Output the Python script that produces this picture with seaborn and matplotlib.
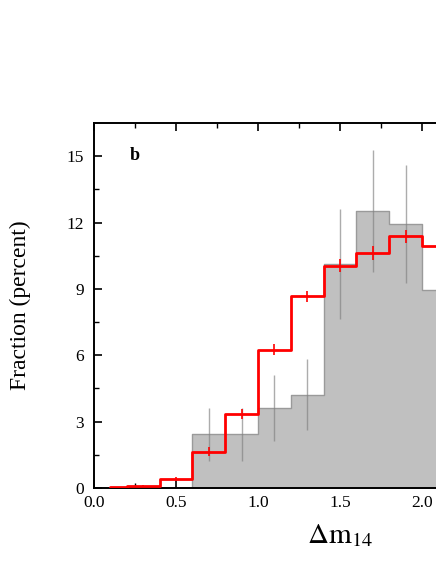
import numpy as np
import pandas as pd
import matplotlib
matplotlib.use("Agg")
import matplotlib.pyplot as plt
import seaborn as sns

# ---------------------------
# DATA
# ---------------------------
edges = [0.1, 0.2, 0.4, 0.6, 0.8, 1.0, 1.2, 1.4, 1.6, 1.8, 2.0, 2.2, 2.4]
observed = [0.0, 0.0, 0.0, 2.42, 2.42, 3.61, 4.21, 10.12, 12.53, 11.93, 8.96, 6.0]
observed_err = [0.0, 0.0, 0.0, 1.2, 1.2, 1.48, 1.6, 2.48, 2.75, 2.67, 2.4, 2.2]
model = [0.03, 0.1, 0.4, 1.64, 3.35, 6.24, 8.66, 10.05, 10.62, 11.38, 10.92, 9.5]
model_err = [0.0, 0.05, 0.1, 0.2, 0.22, 0.25, 0.25, 0.28, 0.3, 0.3, 0.3, 0.3]

centers = [(a + b) / 2 for a, b in zip(edges[:-1], edges[1:])]
df = pd.DataFrame({"center": centers, "observed": observed,
                   "observed_err": observed_err, "model": model,
                   "model_err": model_err})

# ---------------------------
# STYLE
# ---------------------------
sns.set_style("ticks")
plt.rcParams["font.family"] = ["Liberation Serif", "DejaVu Serif"]
plt.rcParams["mathtext.fontset"] = "stix"
plt.rcParams["xtick.direction"] = "in"
plt.rcParams["ytick.direction"] = "in"
for key in ["text.color", "axes.labelcolor", "xtick.color", "ytick.color",
            "xtick.labelcolor", "ytick.labelcolor"]:
    plt.rcParams[key] = "black"

fig = plt.figure(figsize=(4.36, 5.64), dpi=100)
# axes deliberately runs past the right edge (cropped panel)
ax = fig.add_axes([94 / 436, 76 / 564, 492 / 436, 365 / 564])

# grey observed histogram
sns.histplot(data=df, x="center", weights="observed", bins=edges,
             element="step", fill=True, color="#c0c0c0", alpha=1.0,
             edgecolor="#9a9a9a", linewidth=1.0, ax=ax)
obs = df[df["observed"] > 0]
ax.errorbar(obs["center"], obs["observed"], yerr=obs["observed_err"],
            fmt="none", ecolor="#808080", elinewidth=1.0, alpha=0.65,
            capsize=0)

# red model histogram
sns.histplot(data=df, x="center", weights="model", bins=edges,
             element="step", fill=False, color="red", linewidth=2.0,
             zorder=3, ax=ax)
mod = df[df["model_err"] > 0]
ax.errorbar(mod["center"], mod["model"], yerr=mod["model_err"], fmt="none",
            ecolor="red", elinewidth=1.2, capsize=0, zorder=3)

ax.set_xlim(0, 3.0)
ax.set_ylim(0, 16.5)
ax.set_xticks([0.0, 0.5, 1.0, 1.5, 2.0, 2.5, 3.0])
ax.set_xticklabels(["0.0", "0.5", "1.0", "1.5", "2.0", "2.5", "3.0"])
ax.set_xticks(np.arange(0.25, 3.0, 0.5), minor=True)
ax.set_yticks([0, 3, 6, 9, 12, 15])
ax.set_yticks([1.5, 4.5, 7.5, 10.5, 13.5], minor=True)

ax.tick_params(axis="both", which="major", labelsize=12.5, length=6,
               width=1.2, color="black", top=True, pad=7)
ax.tick_params(axis="x", which="major", pad=5)
ax.tick_params(axis="both", which="minor", length=3.5, width=1.0,
               top=True)
for s in ax.spines.values():
    s.set_linewidth(1.4)
    s.set_color("black")

ax.set_ylabel("Fraction (percent)", fontsize=17, labelpad=26)
ax.set_xlabel(r"$\Delta\mathrm{m}_{14}$", fontsize=21, labelpad=8)
ax.text(0.215, 15.05, "b", fontsize=13, fontweight="bold", va="center",
        ha="left")

fig.savefig("out.png", dpi=100)
